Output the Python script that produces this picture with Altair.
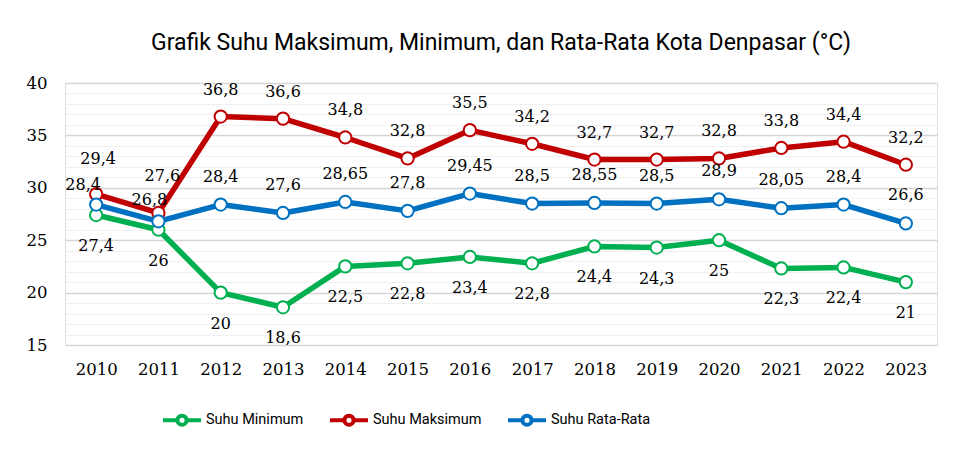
import altair as alt
import pandas as pd

years = ["2010", "2011", "2012", "2013", "2014", "2015", "2016",
         "2017", "2018", "2019", "2020", "2021", "2022", "2023"]
suhu_min = [27.4, 26, 20, 18.6, 22.5, 22.8, 23.4, 22.8, 24.4, 24.3, 25, 22.3, 22.4, 21]
suhu_max = [29.4, 27.6, 36.8, 36.6, 34.8, 32.8, 35.5, 34.2, 32.7, 32.7, 32.8, 33.8, 34.4, 32.2]
suhu_avg = [28.4, 26.8, 28.4, 27.6, 28.65, 27.8, 29.45, 28.5, 28.55, 28.5, 28.9, 28.05, 28.4, 26.6]

series_names = ["Suhu Minimum", "Suhu Maksimum", "Suhu Rata-Rata"]
series_colors = ["#00B050", "#C00000", "#0070C0"]

# label placement (style): default offsets per series, with nudges for crowded labels
label_dy = {"Suhu Minimum": 31, "Suhu Maksimum": -27, "Suhu Rata-Rata": -28}
label_nudge = {
    ("Suhu Maksimum", "2010"): (2, -35),
    ("Suhu Rata-Rata", "2010"): (-13, -20),
    ("Suhu Maksimum", "2011"): (4, -37),
    ("Suhu Rata-Rata", "2011"): (-9, -21),
}

rows = []
for name, vals in zip(series_names, [suhu_min, suhu_max, suhu_avg]):
    for yr, v in zip(years, vals):
        dx, dy = label_nudge.get((name, yr), (0, label_dy[name]))
        rows.append({"Tahun": yr, "Suhu": v, "Seri": name,
                     "Label": f"{v:g}".replace(".", ","),
                     "grp": f"{dx}_{dy}"})
df = pd.DataFrame(rows)

serif = "DejaVu Serif"
sans = "Roboto, sans-serif"

legend_path = ("M -1 0 L -0.24 0 M 0.24 0 L 1 0 "
               "M 0.24 0 A 0.24 0.24 0 1 1 -0.24 0 A 0.24 0.24 0 1 1 0.24 0 Z")

color = alt.Color(
    "Seri:N",
    scale=alt.Scale(domain=series_names, range=series_colors),
    legend=alt.Legend(
        title=None, orient="none", direction="horizontal",
        legendX=96, legendY=316,
        symbolType=legend_path, symbolSize=1444, symbolStrokeWidth=4,
        symbolFillColor="white", symbolOpacity=1,
        labelFont=sans, labelFontSize=14.5, labelColor="#000000",
        labelOffset=3, columnPadding=18,
    ),
)

x = alt.X("Tahun:O", scale=alt.Scale(type="point", padding=0.5),
          axis=alt.Axis(title=None, labelAngle=0, labelFont=serif, labelFontSize=16.5,
                        labelColor="#000000", ticks=False, domain=False, grid=False,
                        labelPadding=16))
y = alt.Y("Suhu:Q", scale=alt.Scale(domain=[15, 40], nice=False, zero=False),
          axis=alt.Axis(title=None, values=list(range(15, 41)),
                        labelExpr="datum.value % 5 === 0 ? datum.label : ''",
                        labelFont=serif, labelFontSize=16.5, labelColor="#000000",
                        ticks=False, domain=False, labelPadding=18,
                        minExtent=52, maxExtent=52,
                        gridColor={"condition": {"test": "datum.value % 5 === 0", "value": "#d6d6d6"},
                                   "value": "#f0f0f0"},
                        gridWidth={"condition": {"test": "datum.value % 5 === 0", "value": 1.6},
                                   "value": 1.2}))

base = alt.Chart(df)

lines = base.mark_line(strokeWidth=5.5, strokeJoin="round", strokeCap="round").encode(
    x=x, y=y, color=color, detail="Seri:N",
    order=alt.Order("Tahun:O"))

points = base.mark_point(shape="circle", filled=False, fill="white", fillOpacity=1,
                         size=150, strokeWidth=2, opacity=1).encode(
    x=x, y=y, color=alt.Color("Seri:N", scale=alt.Scale(domain=series_names, range=series_colors),
                              legend=None))

offset_groups = sorted(set(df["grp"]))
label_layers = []
for g in offset_groups:
    dx, dy = (int(v) for v in g.split("_"))
    label_layers.append(
        base.transform_filter(alt.datum.grp == g)
        .mark_text(font=serif, fontSize=16, color="#000000", baseline="middle", dx=dx, dy=dy)
        .encode(x=x, y=y, text="Label:N")
    )

chart = alt.layer(lines, points, *label_layers).properties(
    width=872, height=262,
    padding={"left": 5, "top": 24, "right": 5, "bottom": 5},
    title=alt.TitleParams("Grafik Suhu Maksimum, Minimum, dan Rata-Rata Kota Denpasar (°C)",
                          font=sans, fontSize=23, fontWeight="normal", color="#000000",
                          anchor="middle", offset=20),
).configure_view(stroke=None).configure(background="white")

chart.save("out.html", embed_options={"renderer": "svg", "actions": False})
